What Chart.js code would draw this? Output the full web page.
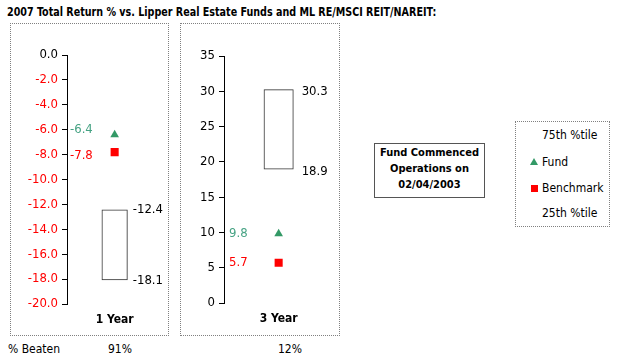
<!DOCTYPE html>
<html>
<head>
<meta charset="utf-8">
<script src="https://cdn.jsdelivr.net/npm/chart.js@4.4.1/dist/chart.umd.min.js"></script>
<style>
  body { margin: 0; background: #fff; }
  #wrap { position: relative; width: 622px; height: 362px; overflow: hidden;
          font-family: "DejaVu Sans Condensed", "DejaVu Sans", sans-serif; color: #000; }
  .txt { position: absolute; white-space: nowrap; font-size: 12px; line-height: 14px; }
  .panel { position: absolute; border: 1px dotted #808080; box-sizing: border-box; }
  canvas { position: absolute; }
  #title { transform-origin: 0 0; transform: scaleX(0.925); font-weight: bold; font-size: 11.5px; }
  #note { position: absolute; left: 374px; top: 143px; width: 111px; height: 55px; box-sizing: border-box;
          border: 1px solid #555; font-weight: bold; font-size: 11px; line-height: 16px; text-align: center; padding-top: 1px; }
  #legend { position: absolute; left: 515px; top: 121px; width: 95px; height: 106px; box-sizing: border-box;
            border: 1px dotted #808080; }
  .tri { position: absolute; width: 0; height: 0; border-left: 4px solid transparent; border-right: 4px solid transparent;
         border-bottom: 7px solid #339966; }
  .sq { position: absolute; width: 7px; height: 7px; background: #ff0000; }
</style>
</head>
<body>
<div id="wrap">
  <div class="txt" id="title" style="left:7px;top:5px;">2007 Total Return % vs. Lipper Real Estate Funds and ML RE/MSCI REIT/NAREIT:</div>

  <div class="panel" style="left:10px;top:23px;width:159px;height:313px;"></div>
  <div class="panel" style="left:180px;top:23px;width:160px;height:313px;"></div>
  <canvas id="chart1" width="158" height="311" style="left:10px;top:24px;"></canvas>
  <canvas id="chart2" width="159" height="311" style="left:180px;top:24px;"></canvas>

  <div id="note">Fund Commenced<br>Operations on<br>02/04/2003</div>

  <div id="legend"></div>
  <div class="txt" style="left:542px;top:128px;">75th %tile</div>
  <div class="tri" style="left:530px;top:158px;"></div>
  <div class="txt" style="left:542px;top:155px;">Fund</div>
  <div class="sq" style="left:531px;top:185px;"></div>
  <div class="txt" style="left:542px;top:181px;">Benchmark</div>
  <div class="txt" style="left:542px;top:206px;">25th %tile</div>

  <div class="txt" style="left:8px;top:342px;">% Beaten</div>
  <div class="txt" id="beaten0" style="left:108px;top:342px;"></div>
  <div class="txt" id="beaten1" style="left:278px;top:342px;"></div>
</div>

<script>
// values
const periods = ['1 Year', '3 Year'];
const fundReturns = [-6.4, 9.8];
const benchmarkReturns = [-7.8, 5.7];
const pct75 = [-12.4, 30.3];
const pct25 = [-18.1, 18.9];
const pctBeaten = ['91%', '12%'];
const axisMin = [-20, 0];
const axisMax = [0, 35];
const axisStep = [2, 5];
const tickDecimals = [1, 0];

const FUND_COLOR = '#339966';
const FUND_TEXT = '#45a283';
const BENCH_COLOR = '#ff0000';
const NARROW = '"Liberation Sans Narrow", "DejaVu Sans Condensed", sans-serif';

Chart.defaults.font.family = NARROW;
Chart.defaults.animation = false;

document.getElementById('beaten0').innerText = pctBeaten[0];
document.getElementById('beaten1').innerText = pctBeaten[1];

// numbers next to the markers and the percentile box
const valueLabels = {
    id: 'valueLabels',
    afterDatasetsDraw(chart, args, opts) {
        const i = opts.index;
        const { ctx, chartArea } = chart;
        const y = chart.scales.y;
        const d = tickDecimals[0];
        ctx.save();
        ctx.font = '13px ' + NARROW;
        ctx.textBaseline = 'middle';
        ctx.textAlign = 'left';
        ctx.fillStyle = FUND_TEXT;
        ctx.fillText(fundReturns[i].toFixed(d), chartArea.left + opts.markGap, y.getPixelForValue(fundReturns[i]) + opts.fundNudge);
        ctx.fillStyle = BENCH_COLOR;
        ctx.fillText(benchmarkReturns[i].toFixed(d), chartArea.left + opts.markGap, y.getPixelForValue(benchmarkReturns[i]) + opts.benchNudge);

        const bar = chart.getDatasetMeta(0).data[0];
        const bx = bar.x + bar.width / 2 + opts.boxGap;
        ctx.fillStyle = '#000';
        ctx.fillText(pct75[i].toFixed(d), bx, y.getPixelForValue(pct75[i]) + opts.boxNudge);
        ctx.fillText(pct25[i].toFixed(d), bx, y.getPixelForValue(pct25[i]) + opts.boxNudge);
        ctx.restore();
    }
};

function makeChart(canvasId, i, yWidth, xHeight, padTop, padRight, labelOpts) {
    return new Chart(document.getElementById(canvasId).getContext('2d'), {
        type: 'bar',
        data: {
            labels: [periods[i]],
            datasets: [
                { label: 'Percentile range', data: [[pct25[i], pct75[i]]], backgroundColor: 'rgba(255,255,255,0)',
                  borderColor: '#333', borderWidth: 1, borderSkipped: false,
                  barPercentage: 0.275, categoryPercentage: 1, order: 3 },
                { label: 'Fund', type: 'line', data: [fundReturns[i]], showLine: false, pointStyle: 'triangle',
                  pointRadius: 5, backgroundColor: FUND_COLOR, borderColor: FUND_COLOR, borderWidth: 0, order: 1 },
                { label: 'Benchmark', type: 'line', data: [benchmarkReturns[i]], showLine: false, pointStyle: 'rect',
                  pointRadius: 5.7, backgroundColor: BENCH_COLOR, borderColor: BENCH_COLOR, borderWidth: 0, order: 2 }
            ]
        },
        options: {
            responsive: false,
            layout: { padding: { top: padTop, right: padRight, left: 0, bottom: 0 } },
            plugins: {
                legend: { display: false },
                tooltip: { enabled: false },
                valueLabels: Object.assign({ index: i }, labelOpts)
            },
            scales: {
                x: {
                    grid: { display: false, drawTicks: false },
                    border: { display: false },
                    ticks: { color: '#000', padding: 9, font: { family: '"DejaVu Sans Condensed", "DejaVu Sans", sans-serif', size: 12, weight: 'bold' } },
                    afterFit: s => { s.height = xHeight; }
                },
                y: {
                    min: axisMin[i], max: axisMax[i],
                    grid: { drawOnChartArea: false, drawTicks: true, tickLength: 5, color: '#000' },
                    border: { display: true, color: '#000', width: 1 },
                    ticks: {
                        stepSize: axisStep[i], padding: 4, font: { size: 13 },
                        color: c => c.tick.value < 0 ? BENCH_COLOR : '#000',
                        callback: v => Number(v).toFixed(tickDecimals[i])
                    },
                    afterFit: s => { s.width = yWidth; }
                }
            }
        },
        plugins: [valueLabels]
    });
}

makeChart('chart1', 0, 57, 31, 31, 5, { markGap: 3, fundNudge: -5, benchNudge: 4, boxGap: 5, boxNudge: 0 });
makeChart('chart2', 1, 44, 32, 32, 5, { markGap: 5, fundNudge: 0, benchNudge: 0, boxGap: 8, boxNudge: 2 });
</script>
</body>
</html>
